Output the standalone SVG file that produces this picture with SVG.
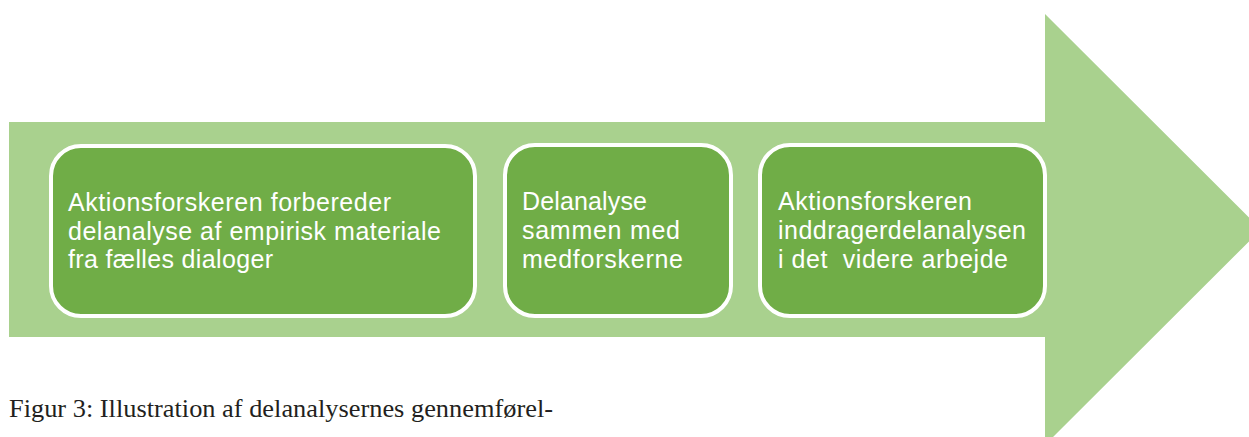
<svg xmlns="http://www.w3.org/2000/svg" width="1249" height="437" viewBox="0 0 1249 437">
  <style>
    .box { fill: #70AD47; stroke: #FFFFFF; stroke-width: 4; }
    .lbl { font-family: "Liberation Sans", Arial, sans-serif; font-size: 25px; fill: #FFFFFF; }
    .cap { font-family: "Liberation Serif", "Times New Roman", serif; font-size: 26px; fill: #231F20; }
  </style>
  <rect width="1249" height="437" fill="#FFFFFF"/>
  <g id="arrow">
    <path d="M9,122 L1045,122 L1045,14 L1261,229.5 L1045,445 L1045,337 L9,337 Z" fill="#A9D18E"/>
  </g>
  <g id="connectors"></g>
  <g id="node1">
    <rect class="box" x="51" y="146" width="424" height="170" rx="30" ry="30"/>
    <text class="lbl">
      <tspan x="68" y="211" textLength="323">Aktionsforskeren forbereder</tspan>
      <tspan x="68" y="240" textLength="373">delanalyse af empirisk materiale</tspan>
      <tspan x="68" y="268" textLength="205">fra fælles dialoger</tspan>
    </text>
  </g>
  <g id="node2">
    <rect class="box" x="505" y="145" width="226" height="171" rx="30" ry="30"/>
    <text class="lbl">
      <tspan x="522" y="210" textLength="125">Delanalyse</tspan>
      <tspan x="522" y="239" textLength="158">sammen med</tspan>
      <tspan x="522" y="268" textLength="161">medforskerne</tspan>
    </text>
  </g>
  <g id="node3">
    <rect class="box" x="760" y="145" width="285" height="171" rx="30" ry="30"/>
    <text class="lbl">
      <tspan x="778" y="210" textLength="194">Aktionsforskeren</tspan>
      <tspan x="778" y="239" textLength="248">inddragerdelanalysen</tspan>
      <tspan x="778" y="268" textLength="230" xml:space="preserve">i det  videre arbejde</tspan>
    </text>
  </g>
  <g id="caption">
    <text class="cap" x="9" y="417" textLength="544" lengthAdjust="spacingAndGlyphs">Figur 3: Illustration af delanalysernes gennemførel-</text>
  </g>
</svg>
